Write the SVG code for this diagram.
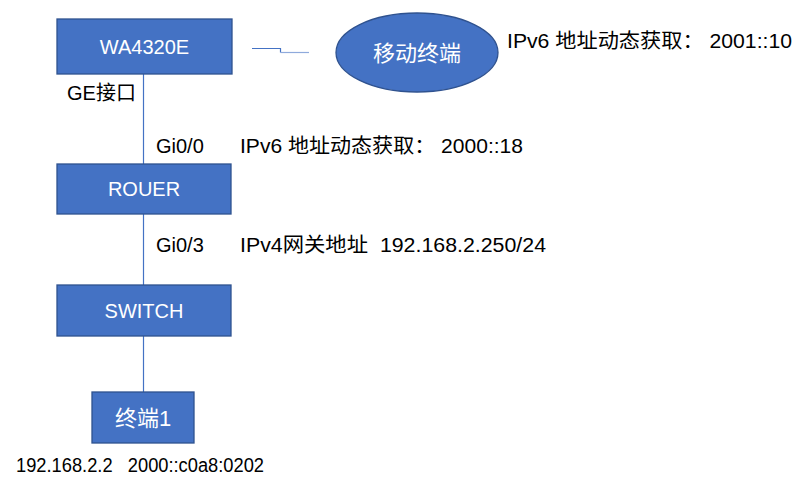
<svg xmlns="http://www.w3.org/2000/svg" width="812" height="497" viewBox="0 0 812 497">
<style>
.box{fill:#4472C4;stroke:#2F528F;stroke-width:1.3}
.bt{fill:#fff;font-family:"Liberation Sans","Noto Sans CJK SC",sans-serif;font-size:20px;text-anchor:middle}
.cj{font-size:22px}
.lb{fill:#000;font-family:"Liberation Sans","Noto Sans CJK SC",sans-serif;font-size:20px}
.ln{stroke:#4472C4;stroke-width:1.2;fill:none}
</style>
<rect width="812" height="497" fill="#fff"/>
<g id="connectors">
<line class="ln" x1="143.5" y1="74" x2="143.5" y2="164"/>
<line class="ln" x1="143.5" y1="214" x2="143.5" y2="285"/>
<line class="ln" x1="143.5" y1="336" x2="143.5" y2="392"/>
<path class="ln" d="M252 48.5H280.5V52.5"/>
<line x1="280.5" y1="52.5" x2="309" y2="52.5" stroke="#8FAADC" stroke-width="1.2"/>
</g>
<g id="wa4320e">
<rect class="box" x="57" y="19" width="175" height="55"/>
<text class="bt" x="144.5" y="54">WA4320E</text>
</g>
<g id="mobile">
<ellipse class="box" cx="417" cy="52.5" rx="81" ry="39.5"/>
<text class="bt cj" x="417" y="61">移动终端</text>
</g>
<g id="router">
<rect class="box" x="57" y="164" width="174" height="50"/>
<text class="bt" x="144" y="196">ROUER</text>
</g>
<g id="switch">
<rect class="box" x="57" y="285" width="174" height="51"/>
<text class="bt" x="144" y="318">SWITCH</text>
</g>
<g id="terminal1">
<rect class="box" x="92" y="392" width="102" height="51"/>
<text class="bt cj" x="143" y="426">终端1</text>
</g>
<g id="labels">
<text class="lb" x="507" y="48" textLength="285" lengthAdjust="spacingAndGlyphs" xml:space="preserve">IPv6 地址动态获取： 2001::10</text>
<text class="lb" x="67" y="100">GE接口</text>
<text class="lb" x="156" y="153">Gi0/0</text>
<text class="lb" x="240" y="153" textLength="283" lengthAdjust="spacingAndGlyphs" xml:space="preserve">IPv6 地址动态获取： 2000::18</text>
<text class="lb" x="156" y="252">Gi0/3</text>
<text class="lb" x="240" y="252" textLength="306" lengthAdjust="spacingAndGlyphs" xml:space="preserve">IPv4网关地址  192.168.2.250/24</text>
<text class="lb" x="16" y="472" font-size="18" textLength="248" lengthAdjust="spacingAndGlyphs" xml:space="preserve">192.168.2.2   2000::c0a8:0202</text>
</g>
</svg>
